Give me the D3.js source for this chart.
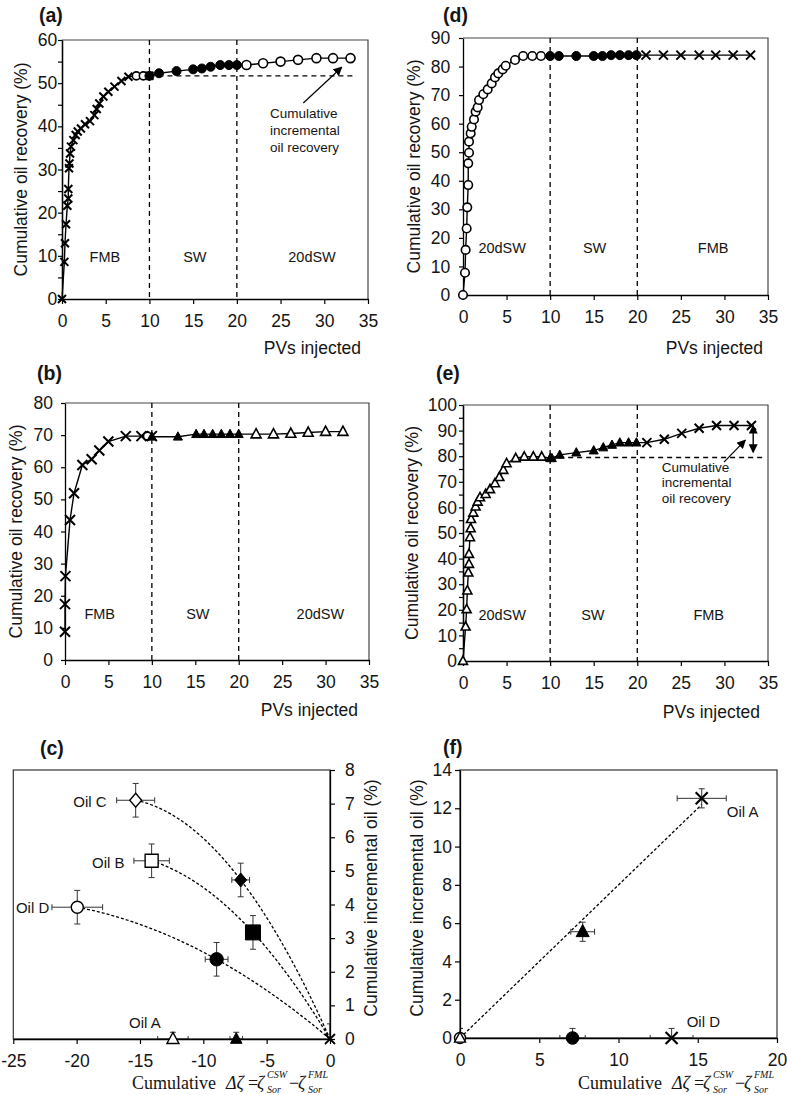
<!DOCTYPE html>
<html><head><meta charset="utf-8">
<script src="https://cdn.jsdelivr.net/npm/d3@7"></script>
<style>
body{margin:0;background:#fff}
svg{display:block}
text{fill:#151515}
</style>
</head><body>
<svg id="chart" width="787" height="1095" font-family="'Liberation Sans', Arial, sans-serif"></svg>
<script>
// ---------------- DATA ----------------
const pvTicks = [0,5,10,15,20,25,30,35];
const phaseBounds = [10,20];

// (a)
const aFmbPV  = [0,0.27,0.34,0.46,0.61,0.72,0.72,0.80,0.85,0.92,1.03,1.30,1.57,1.80,2.17,2.63,3.20,3.70,3.97,4.27,4.73,5.30,6.00,6.80,7.60,10.0];
const aFmbRec = [0,8.6,12.9,17.3,21.6,23.3,25.5,30.3,31.4,33.7,35.3,36.8,38.0,38.8,39.5,40.5,41.2,42.6,44.0,45.3,46.9,48.0,49.2,50.5,51.5,51.7];
const aOpenPV  = [8.5,9.3];
const aOpenRec = [51.7,51.7];
const aSwPV  = [10,11.1,13.1,15,16,17,18.1,19.1,20];
const aSwRec = [51.7,52.3,52.8,53.2,53.4,53.8,54.2,54.2,54.2];
const a20PV  = [21.1,23,25,27,29.1,31,33];
const a20Rec = [54.2,54.6,55.0,55.4,55.8,55.8,55.8];
const aBase = 51.7;

// (b)
const bFmbPV  = [0,0,0.05,0.58,1.04,2.0,3.07,3.95,4.99,7.0,8.8,10];
const bFmbRec = [8.8,17.4,26.1,43.6,51.9,60.7,62.5,65.2,68.0,69.7,69.7,69.7];
const bOpenPV  = [9.5];
const bOpenRec = [69.7];
const bSwPV  = [10,13,15.1,16,17,18,19,20];
const bSwRec = [69.5,69.5,70.3,70.3,70.3,70.3,70.3,70.3];
const b20PV  = [22,24,26,28,30,32];
const b20Rec = [70.3,70.3,70.5,70.8,71.1,71.1];

// (d)
const d20PV  = [0,0.23,0.3,0.42,0.49,0.6,0.6,0.69,0.69,0.88,1.0,1.26,1.45,1.68,1.84,2.33,2.83,3.29,3.67,4.05,4.55,4.9,5.97,6.9,7.95,8.95];
const d20Rec = [0,7.8,15.8,23.3,30.7,38.5,46.1,49.8,53.7,56.6,58.9,61.5,64.2,65.7,68.3,70.3,72.0,74.1,76.2,77.6,79.0,80.3,82.3,83.7,83.7,83.7];
const dSwPV  = [10,11,13,15,16,17,18,19,19.9];
const dSwRec = [83.7,83.7,83.7,83.7,83.7,84,84,84,84];
const dFmbPV  = [21,23,25,27.1,29,31,33];
const dFmbRec = [84,84,84,84,84,84,84];

// (e)
const e20PV  = [0,0.3,0.42,0.5,0.61,0.69,0.69,0.8,0.88,0.92,1.18,1.45,1.68,1.95,2.6,3.1,3.67,4.17,4.63,5.0,6.05,7.03,8.07,9.03];
const e20Rec = [0,13.4,20.2,27.5,34.5,37.9,41.8,48.3,51.8,55.4,57.9,60.3,62.2,63.9,65.2,67.1,69.4,71.8,74.6,77.2,79.2,79.8,79.8,79.8];
const eSwPV  = [10,10.2,11.1,13.0,15.0,16.1,17.1,18.0,19.0,19.9];
const eSwRec = [79.2,79.2,80.5,81.4,82.2,83.4,84.4,85.3,85.3,85.3];
const eFmbPV  = [21.1,23.1,25.1,27.1,29.1,31.1,33.1];
const eFmbRec = [85.3,86.6,88.9,90.9,92.0,92.0,92.0];
const eBase = 79.5;
const eArrowTop = 92.0, eArrowBottom = 81.5, eArrowPV = 33.3;

// (c)
const cOils = ['Oil C','Oil B','Oil D','Oil A'];
const cShapes = ['d','s','c','t'];
const cOpenDz  = [-15.34,-14.08,-19.95,-12.4];
const cOpenInc = [7.1,5.3,3.92,0];
const cOpenDzErr  = [1.5,1.4,2.0,1.2];
const cOpenIncErr = [0.5,0.5,0.5,0.2];
const cFillDz  = [-7.05,-6.08,-8.95,-7.4];
const cFillInc = [4.73,3.17,2.37,0];
const cFillDzErr  = [0.7,0.4,0.9,0.5];
const cFillIncErr = [0.5,0.5,0.5,0.2];
const cOriginErr = 0.45;
const cTicksX = [-25,-20,-15,-10,-5,0];
const cTicksY = [0,1,2,3,4,5,6,7,8];

// (f)
const fDz     = [0,0,7.1,7.74,13.35,15.25];
const fInc    = [0,0,0,5.55,0,12.52];
const fDzErr  = [0,0,0.8,0.75,1.35,1.55];
const fIncErr = [0.5,0.5,0.5,0.5,0.5,0.5];
const fShapes = ['oc','ot','fc','ft','x','x'];
const fTicksX = [0,5,10,15,20];
const fTicksY = [0,2,4,6,8,10,12,14];

// ---------------- DRAWING ----------------
const SANS = "'Liberation Sans', Arial, sans-serif";
const SERIF = "'Liberation Serif', 'Times New Roman', serif";
const svg = d3.select('#chart');
const defs = svg.append('defs');
defs.append('marker').attr('id','ah').attr('viewBox','0 0 10 10').attr('refX',9).attr('refY',5)
  .attr('markerWidth',9).attr('markerHeight',9).attr('markerUnits','userSpaceOnUse').attr('orient','auto-start-reverse')
  .append('path').attr('d','M0,0L10,5L0,10Z').attr('fill','#000');

function markerPath(type, cx, cy, s){
  const h = s/2;
  const t = type.length>1 ? type[1] : type;
  if(type==='x') return `M${cx-h},${cy-h}L${cx+h},${cy+h}M${cx-h},${cy+h}L${cx+h},${cy-h}`;
  if(t==='c') return `M${cx-h},${cy}a${h},${h} 0 1,0 ${s},0a${h},${h} 0 1,0 ${-s},0Z`;
  if(t==='t') return `M${cx},${cy-h*1.1}L${cx+h},${cy+h*0.75}L${cx-h},${cy+h*0.75}Z`;
  if(t==='d') return `M${cx},${cy-h}L${cx+h*0.85},${cy}L${cx},${cy+h}L${cx-h*0.85},${cy}Z`;
  if(t==='s') return `M${cx-h},${cy-h}H${cx+h}V${cy+h}H${cx-h}Z`;
  return '';
}
function styleMarker(sel, type, sw){
  if(type==='x') sel.attr('fill','none').attr('stroke','#000').attr('stroke-width',sw||2);
  else if(type[0]==='o') sel.attr('fill','#fff').attr('stroke','#000').attr('stroke-width',sw||1.5);
  else sel.attr('fill','#000').attr('stroke','#000').attr('stroke-width',1);
}
function styleAxis(ax, fs){
  ax.attr('font-family',SANS);
  ax.select('.domain').attr('stroke','#000').attr('stroke-width',1.3);
  ax.selectAll('.tick line').attr('stroke','#000').attr('stroke-width',1.2);
  ax.selectAll('.tick text').attr('font-size',fs||17.5).attr('fill','#151515');
}

const recPanels = [
 {x0:62,x1:368,yTop:40,yBot:299,ymax:60,minor:true,gap:4.7,label:'(a)',labelX:39,labelY:22,
  phases:['FMB','SW','20dSW'],phasePV:[4.9,15.2,28.6],phaseY:262,yTitleX:27,xTitleRight:361,xTitleY:354,
  series:[{pv:aFmbPV,rec:aFmbRec,type:'x',size:8},{pv:aOpenPV,rec:aOpenRec,type:'oc',size:8},
          {pv:aSwPV,rec:aSwRec,type:'fc',size:9},{pv:a20PV,rec:a20Rec,type:'oc',size:9}],
  base:{rec:aBase,from:10,to:33.5},
  arrow:{from:[27.6,45.4],to:[32.0,53.7]},
  note:{pv:23.8,rec:41.9,lh:16.7}},
 {x0:65,x1:369,yTop:403,yBot:660,ymax:80,minor:false,gap:12,label:'(b)',labelX:37,labelY:380,
  phases:['FMB','SW','20dSW'],phasePV:[4.0,15.3,29.4],phaseY:619,yTitleX:22,xTitleRight:358,xTitleY:716,
  series:[{pv:bFmbPV,rec:bFmbRec,type:'x',size:10},{pv:bOpenPV,rec:bOpenRec,type:'oc',size:8},
          {pv:bSwPV,rec:bSwRec,type:'ft',size:9},{pv:b20PV,rec:b20Rec,type:'ot',size:10}]},
 {x0:463,x1:768,yTop:38,yBot:295,ymax:90,minor:false,gap:12.7,label:'(d)',labelX:443,labelY:22,
  phases:['20dSW','SW','FMB'],phasePV:[4.5,15.1,28.7],phaseY:253,yTitleX:420,xTitleRight:763,xTitleY:354,
  series:[{pv:d20PV,rec:d20Rec,type:'oc',size:8.5},{pv:dSwPV,rec:dSwRec,type:'fc',size:9},
          {pv:dFmbPV,rec:dFmbRec,type:'x',size:9}]},
 {x0:463,x1:768,yTop:405,yBot:661,ymax:100,minor:true,gap:6,label:'(e)',labelX:436,labelY:380,
  phases:['20dSW','SW','FMB'],phasePV:[4.5,14.9,28.2],phaseY:620,yTitleX:418,xTitleRight:760,xTitleY:718,
  series:[{pv:e20PV,rec:e20Rec,type:'ot',size:9},{pv:eSwPV,rec:eSwRec,type:'ft',size:9},
          {pv:eFmbPV,rec:eFmbRec,type:'x',size:9}],
  base:{rec:eBase,from:10,to:34.6},
  dbl:{pv:eArrowPV,top:eArrowTop,bottom:eArrowBottom},
  arrow:{from:[29.95,77.7],to:[32.4,86.3]},
  note:{pv:22.8,rec:74.0,lh:15.5}}
];

recPanels.forEach(p=>{
  const g = svg.append('g');
  const x = d3.scaleLinear().domain([0,35]).range([p.x0,p.x1]);
  const y = d3.scaleLinear().domain([0,p.ymax]).range([p.yBot,p.yTop]);
  g.append('path').attr('d',`M${p.x0},${p.yTop}H${p.x1}V${p.yBot}`).attr('fill','none').attr('stroke','#444').attr('stroke-width',1.2);
  phaseBounds.forEach(v=>g.append('line').attr('x1',x(v)).attr('x2',x(v)).attr('y1',p.yTop).attr('y2',p.yBot)
    .attr('stroke','#000').attr('stroke-width',1.3).attr('stroke-dasharray','5,4'));
  const xa = g.append('g').attr('transform',`translate(0,${p.yBot})`)
    .call(d3.axisBottom(x).tickValues(pvTicks).tickSize(5).tickSizeOuter(0).tickPadding(10.5));
  styleAxis(xa);
  if(p.minor){
    const ma = g.append('g').attr('transform',`translate(${p.x0},0)`)
      .call(d3.axisLeft(y).tickValues(d3.range(5,p.ymax,10)).tickSize(4).tickSizeOuter(0).tickFormat(''));
    styleAxis(ma);
  }
  const ya = g.append('g').attr('transform',`translate(${p.x0},0)`)
    .call(d3.axisLeft(y).tickValues(d3.range(0,p.ymax+1,10)).tickSize(4).tickSizeOuter(0).tickPadding(p.gap-4));
  styleAxis(ya);
  p.phases.forEach((t,i)=>g.append('text').attr('x',x(p.phasePV[i])).attr('y',p.phaseY)
    .attr('text-anchor','middle').attr('font-size',14.5).text(t));
  if(p.base){
    g.append('line').attr('x1',x(p.base.from)).attr('x2',x(p.base.to)).attr('y1',y(p.base.rec)).attr('y2',y(p.base.rec))
      .attr('stroke','#000').attr('stroke-width',1.3).attr('stroke-dasharray','5,4');
  }
  const pts = [];
  p.series.forEach(s=>s.pv.forEach((v,i)=>pts.push({pv:v,rec:s.rec[i]})));
  pts.sort((a,b)=>a.pv-b.pv);
  g.append('path').datum(pts).attr('d',d3.line().x(d=>x(d.pv)).y(d=>y(d.rec)))
    .attr('fill','none').attr('stroke','#000').attr('stroke-width',1.4);
  p.series.forEach(s=>{
    const data = s.pv.map((v,i)=>({pv:v,rec:s.rec[i]}));
    const sel = g.append('g').selectAll('path').data(data).join('path')
      .attr('d',d=>markerPath(s.type,x(d.pv),y(d.rec),s.size));
    styleMarker(sel,s.type,s.type==='x'?2:1.6);
  });
  if(p.dbl){
    g.append('line').attr('x1',x(p.dbl.pv)).attr('x2',x(p.dbl.pv)).attr('y1',y(p.dbl.top)).attr('y2',y(p.dbl.bottom))
      .attr('stroke','#000').attr('stroke-width',1.4).attr('marker-start','url(#ah)').attr('marker-end','url(#ah)');
  }
  if(p.arrow){
    g.append('line').attr('x1',x(p.arrow.from[0])).attr('y1',y(p.arrow.from[1])).attr('x2',x(p.arrow.to[0])).attr('y2',y(p.arrow.to[1]))
      .attr('stroke','#000').attr('stroke-width',1.2).attr('marker-end','url(#ah)');
  }
  if(p.note){
    ['Cumulative','incremental','oil recovery'].forEach((t,i)=>g.append('text').attr('x',x(p.note.pv))
      .attr('y',y(p.note.rec)+i*p.note.lh).attr('font-size',13.5).text(t));
  }
  g.append('text').attr('x',p.labelX).attr('y',p.labelY).attr('font-size',19.5).attr('font-weight','bold').text(p.label);
  g.append('text').attr('x',p.xTitleRight).attr('y',p.xTitleY).attr('text-anchor','end').attr('font-size',17.5).text('PVs injected');
  g.append('text').attr('transform',`translate(${p.yTitleX},${(p.yTop+p.yBot)/2}) rotate(-90)`)
    .attr('text-anchor','middle').attr('font-size',17.5).text('Cumulative oil recovery (%)');
});

function errorBars(g, x, y, data){
  const cap = 3;
  data.forEach(d=>{
    const cx=x(d.x), cy=y(d.y);
    if(d.xe>0){
      const l=x(d.x-d.xe), r=x(d.x+d.xe);
      g.append('path').attr('d',`M${l},${cy}H${r}M${l},${cy-cap}V${cy+cap}M${r},${cy-cap}V${cy+cap}`);
    }
    if(d.ye>0){
      const t=y(d.y+d.ye), b=y(d.y-d.ye);
      g.append('path').attr('d',`M${cx},${t}V${b}M${cx-cap},${t}H${cx+cap}M${cx-cap},${b}H${cx+cap}`);
    }
  });
  g.attr('fill','none').attr('stroke','#333').attr('stroke-width',1);
}

function mathLabel(x0, base){
  const t = svg.append('g').attr('font-family',SERIF);
  const add=(dx,dy,fs,it,s)=>t.append('text').attr('x',x0+dx).attr('y',base+dy).attr('font-size',fs)
    .attr('font-style',it?'italic':'normal').text(s);
  add(0,0,18,false,'Cumulative');
  add(94,0,18,true,'Δζ');
  add(116,0,18,false,'=');
  add(125,0,18,true,'ζ');
  add(135,-11,10,true,'CSW');
  add(135,4,10,true,'Sor');
  add(157,0,18,false,'−');
  add(166,0,18,true,'ζ');
  add(176,-11,10,true,'FML');
  add(176,4,10,true,'Sor');
}

// ---------- panel (c) ----------
(function(){
  const g = svg.append('g');
  const x = d3.scaleLinear().domain([-25,0]).range([13.3,330]);
  const y = d3.scaleLinear().domain([0,8]).range([1039,770]);
  g.append('rect').attr('x',x(-25)).attr('y',y(8)).attr('width',x(0)-x(-25)).attr('height',y(0)-y(8))
    .attr('fill','none').attr('stroke','#333').attr('stroke-width',1.2);
  defs.append('clipPath').attr('id','clipc').append('rect').attr('x',x(-25)).attr('y',y(8)).attr('width',x(0)-x(-25)).attr('height',y(0)-y(8));
  cOils.forEach((o,i)=>{
    if(cOpenInc[i]===0) return;
    const x1=cOpenDz[i], y1=cOpenInc[i], x2=cFillDz[i], y2=cFillInc[i];
    const a = (y1/x1 - y2/x2)/(x1-x2);
    const b = y1/x1 - a*x1;
    const xs = d3.range(0,101).map(k=>x1*(1-k/100));
    g.append('path').datum(xs).attr('d',d3.line().x(d=>x(d)).y(d=>y(a*d*d+b*d)))
      .attr('fill','none').attr('stroke','#000').attr('stroke-width',1.3).attr('stroke-dasharray','3,2');
  });
  const eb = g.append('g').attr('clip-path','url(#clipc)');
  const ebData = [];
  cOils.forEach((o,i)=>{
    ebData.push({x:cOpenDz[i],y:cOpenInc[i],xe:cOpenDzErr[i],ye:cOpenIncErr[i]});
    ebData.push({x:cFillDz[i],y:cFillInc[i],xe:cFillDzErr[i],ye:cFillIncErr[i]});
  });
  ebData.push({x:0,y:0,xe:0,ye:cOriginErr});
  errorBars(eb,x,y,ebData);
  const xa = g.append('g').attr('transform',`translate(0,${y(0)})`)
    .call(d3.axisBottom(x).tickValues(cTicksX).tickSize(5).tickSizeOuter(0).tickPadding(10.5).tickFormat(d=>String(d)));
  styleAxis(xa);
  const ya = g.append('g').attr('transform',`translate(${x(0)},0)`)
    .call(d3.axisRight(y).tickValues(cTicksY).tickSize(5).tickSizeOuter(0).tickPadding(10));
  styleAxis(ya);
  const openSize = {d:14,s:13,c:12,t:12};
  const fillSize = {d:14,s:15,c:13.4,t:11.5};
  cOils.forEach((o,i)=>{
    const sh=cShapes[i];
    styleMarker(g.append('path').attr('d',markerPath('o'+sh,x(cOpenDz[i]),y(cOpenInc[i]),openSize[sh])),'o'+sh,1.4);
    styleMarker(g.append('path').attr('d',markerPath('f'+sh,x(cFillDz[i]),y(cFillInc[i]),fillSize[sh])),'f'+sh);
  });
  styleMarker(g.append('path').attr('d',markerPath('x',x(0),y(0),10)),'x',1.8);
  const lab = [{dx:-29,dy:7,anchor:'end'},{dx:-27,dy:7,anchor:'end'},{dx:-28,dy:6,anchor:'end'},{dx:-28,dy:-11,anchor:'middle'}];
  cOils.forEach((o,i)=>g.append('text').attr('x',x(cOpenDz[i])+lab[i].dx).attr('y',y(cOpenInc[i])+lab[i].dy)
    .attr('text-anchor',lab[i].anchor).attr('font-size',15).text(o));
  g.append('text').attr('x',40).attr('y',755).attr('font-size',19.5).attr('font-weight','bold').text('(c)');
  g.append('text').attr('transform',`translate(377,898) rotate(-90)`).attr('text-anchor','middle').attr('font-size',17.5)
    .text('Cumulative incremental oil (%)');
  mathLabel(132,1089);
})();

// ---------- panel (f) ----------
(function(){
  const g = svg.append('g');
  const x = d3.scaleLinear().domain([0,20]).range([460,777]);
  const y = d3.scaleLinear().domain([0,14]).range([1038,770]);
  g.append('rect').attr('x',x(0)).attr('y',y(14)).attr('width',x(20)-x(0)).attr('height',y(0)-y(14))
    .attr('fill','none').attr('stroke','#333').attr('stroke-width',1.2);
  defs.append('clipPath').attr('id','clipf').append('rect').attr('x',x(0)).attr('y',y(14)).attr('width',x(20)-x(0)).attr('height',y(0)-y(14));
  let sxy=0,sxx=0; fDz.forEach((v,i)=>{ if(fInc[i]>0){ sxy+=v*fInc[i]; sxx+=v*v; } });
  const k = sxy/sxx;
  const xmax = d3.max(fDz.filter((v,i)=>fInc[i]>0));
  g.append('path').datum([0,xmax]).attr('d',d3.line().x(d=>x(d)).y(d=>y(k*d)))
    .attr('fill','none').attr('stroke','#000').attr('stroke-width',1.3).attr('stroke-dasharray','3,2');
  const eb = g.append('g').attr('clip-path','url(#clipf)');
  errorBars(eb,x,y,fDz.map((v,i)=>({x:v,y:fInc[i],xe:fDzErr[i],ye:fIncErr[i]})));
  const xa = g.append('g').attr('transform',`translate(0,${y(0)})`)
    .call(d3.axisBottom(x).tickValues(fTicksX).tickSize(5).tickSizeOuter(0).tickPadding(10.5));
  styleAxis(xa);
  const ya = g.append('g').attr('transform',`translate(${x(0)},0)`)
    .call(d3.axisLeft(y).tickValues(fTicksY).tickSize(5).tickSizeOuter(0).tickPadding(3));
  styleAxis(ya);
  const sizes = {oc:11,ot:11,fc:12.6,ft:13,x:12};
  fDz.forEach((v,i)=>{
    const t=fShapes[i];
    styleMarker(g.append('path').attr('d',markerPath(t,x(v),y(fInc[i]),sizes[t])),t,t==='x'?2.2:1.4);
  });
  g.append('text').attr('x',742.7).attr('y',817).attr('text-anchor','middle').attr('font-size',15).text('Oil A');
  g.append('text').attr('x',703.3).attr('y',1027).attr('text-anchor','middle').attr('font-size',15).text('Oil D');
  g.append('text').attr('x',443).attr('y',754).attr('font-size',19.5).attr('font-weight','bold').text('(f)');
  g.append('text').attr('transform',`translate(423,898) rotate(-90)`).attr('text-anchor','middle').attr('font-size',17.5)
    .text('Cumulative incremental oil (%)');
  mathLabel(578,1089);
})();
</script>
</body></html>
